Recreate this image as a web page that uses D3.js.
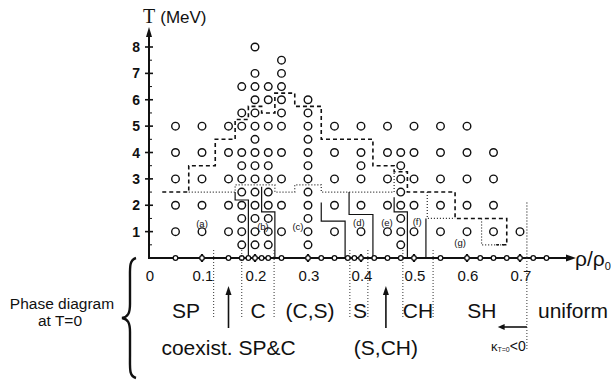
<!DOCTYPE html>
<html>
<head>
<meta charset="utf-8">
<script src="https://cdn.jsdelivr.net/npm/d3@7"></script>
<style>
  body { margin: 0; background: #fff; }
  svg { display: block; }
  text { font-family: "Liberation Sans", Arial, sans-serif; fill: #111; }
</style>
</head>
<body>
<svg id="chart" width="611" height="380"></svg>
<script>
// simulation grid: one list of temperatures per density column
const rhoCols = [0.05, 0.1, 0.15, 0.175, 0.2, 0.225, 0.25, 0.3, 0.35, 0.4, 0.45, 0.475, 0.5, 0.55, 0.6, 0.65, 0.7];
const tempCols = [
  [1, 2, 3, 4, 5],
  [1, 2, 3, 4, 5],
  [1, 2, 3, 4, 5],
  [0.5, 1, 1.5, 2, 2.5, 3, 3.5, 4, 5, 5.5, 6.5],
  [0.5, 1, 1.5, 2, 2.5, 3, 3.5, 4, 4.5, 5, 5.5, 6, 6.5, 7, 8],
  [0.5, 1, 1.5, 2, 2.5, 3, 3.5, 4, 5, 6, 6.5],
  [1, 2, 3, 4, 5, 5.5, 6, 6.5, 7, 7.5],
  [0.5, 1, 1.5, 2, 2.5, 3, 3.5, 4, 4.5, 5, 5.5, 6],
  [1, 2, 3, 4, 5],
  [1, 2, 3, 3.5, 4, 5],
  [1, 2, 3, 4, 5],
  [0.5, 1, 1.5, 2, 2.5, 3, 3.5, 4],
  [1, 2, 3, 4, 5],
  [1, 2, 3, 4, 5],
  [1, 2, 3, 4, 5],
  [1, 2, 3, 4],
  [1]
];
// T = 0 points on the density axis
const rhoAtZero = [0.05, 0.1, 0.15, 0.175, 0.1875, 0.2, 0.2125, 0.225, 0.25, 0.3, 0.325, 0.35, 0.375, 0.3875, 0.4, 0.425, 0.45, 0.475, 0.5, 0.55, 0.6, 0.625, 0.65, 0.675, 0.7, 0.725, 0.75];

const xTicks = [0, 0.1, 0.2, 0.3, 0.4, 0.5, 0.6, 0.7];
const yTicks = [1, 2, 3, 4, 5, 6, 7, 8];
const yMinor = [0.5, 1.5, 2.5, 3.5, 4.5, 5.5, 6.5, 7.5];

// boundaries, as [rho, T]
const dashedLine = [[0.025, 2.5], [0.075, 2.5], [0.075, 3.5], [0.125, 3.5], [0.125, 4.5], [0.1625, 4.5],
  [0.1625, 5.25], [0.1875, 5.25], [0.1875, 5.75], [0.2125, 5.75], [0.2125, 5.5], [0.2375, 5.5],
  [0.2375, 6.25], [0.275, 6.25], [0.275, 5.75], [0.325, 5.75], [0.325, 4.5], [0.4225, 4.5],
  [0.4225, 3.5], [0.4625, 3.5], [0.4625, 3.27], [0.4875, 3.27], [0.4875, 2.5], [0.5775, 2.5],
  [0.5775, 1.5], [0.675, 1.5], [0.675, 0.5], [0.655, 0.5]];
const dottedLines = [
  [[0.075, 2.5], [0.1625, 2.5], [0.1625, 2.77], [0.2375, 2.77], [0.2375, 2.5], [0.275, 2.5], [0.275, 2.77],
   [0.325, 2.77], [0.325, 2.5], [0.4625, 2.5], [0.4625, 3.27]],
  [[0.525, 2.5], [0.525, 1.5], [0.5775, 1.5]],
  [[0.6275, 1.5], [0.6275, 0.5], [0.675, 0.5]],
  [[0.713, 2.1], [0.713, 0]]
];
const solidLines = [
  [[0.1625, 2.5], [0.1625, 2.2], [0.1875, 2.2], [0.1875, 0]],
  [[0.2125, 2.7], [0.2125, 1.75], [0.2375, 1.75], [0.2375, 0]],
  [[0.325, 2.1], [0.325, 1.4], [0.37, 1.4], [0.37, 0]],
  [[0.3775, 2.5], [0.3775, 1.65], [0.4225, 1.65], [0.4225, 0]],
  [[0.4625, 2.3], [0.4625, 1.75], [0.4875, 1.75], [0.4875, 0]],
  [[0.5225, 1.5], [0.5225, 0]]
];

const caseLabels = ["(a)", "(b)", "(c)", "(d)", "(e)", "(f)", "(g)"];
const caseRho = [0.1, 0.215, 0.281, 0.396, 0.449, 0.506, 0.587];
const caseT = [1.29, 1.17, 1.17, 1.33, 1.33, 1.36, 0.6];

// phase diagram at T = 0
const phaseLabels = ["SP", "C", "(C,S)", "S", "CH", "SH", "uniform"];
const phaseRho = [0.07, 0.206, 0.304, 0.398, 0.5075, 0.628, 0.8];
const phaseCuts = [0.122, 0.175, 0.236, 0.379, 0.413, 0.479, 0.536];
const coexistLabels = ["coexist. SP&C", "(S,CH)"];
const coexistRho = [0.15, 0.447];

const svg = d3.select("#chart");
const x = d3.scaleLinear().domain([0, 0.7]).range([149, 520]);
const y = d3.scaleLinear().domain([0, 8]).range([258, 47]);
const line = d3.line().x(d => x(d[0])).y(d => y(d[1]));

// axes
svg.append("line").attr("x1", x(0)).attr("x2", 570).attr("y1", y(0)).attr("y2", y(0))
  .attr("stroke", "#111").attr("stroke-width", 2);
svg.append("path").attr("d", `M576,${y(0)} L566,${y(0) - 3.5} L566,${y(0) + 3.5}Z`).attr("fill", "#111");
svg.append("line").attr("x1", x(0)).attr("x2", x(0)).attr("y1", y(0) + 1).attr("y2", 34)
  .attr("stroke", "#111").attr("stroke-width", 2);
svg.append("path").attr("d", `M${x(0)},27 L${x(0) - 3},37 L${x(0) + 3},37Z`).attr("fill", "#111");

svg.selectAll(".ytick").data(yTicks).enter().append("line")
  .attr("x1", x(0) - 4).attr("x2", x(0) + 4).attr("y1", d => y(d)).attr("y2", d => y(d))
  .attr("stroke", "#111").attr("stroke-width", 1.6);
svg.selectAll(".yminor").data(yMinor).enter().append("line")
  .attr("x1", x(0)).attr("x2", x(0) + 3).attr("y1", d => y(d)).attr("y2", d => y(d))
  .attr("stroke", "#111").attr("stroke-width", 1);
svg.selectAll(".ylab").data(yTicks).enter().append("text")
  .attr("x", 140).attr("y", d => y(d)).attr("dy", "0.36em")
  .attr("text-anchor", "end").attr("font-size", 14).attr("font-weight", "bold")
  .text(d => d);

svg.selectAll(".xtick").data(xTicks.slice(1)).enter().append("line")
  .attr("x1", d => x(d)).attr("x2", d => x(d)).attr("y1", y(0) - 4).attr("y2", y(0) + 4)
  .attr("stroke", "#111").attr("stroke-width", 2.2);
svg.selectAll(".xlab").data(xTicks).enter().append("text")
  .attr("x", d => x(d) + 1).attr("y", 281)
  .attr("text-anchor", "middle").attr("font-size", 15)
  .text(d => d);

// axis titles
const tTitle = svg.append("text").attr("x", 143).attr("y", 23).attr("font-size", 17);
tTitle.append("tspan").attr("font-family", "Liberation Serif, serif").attr("font-size", 20).text("T");
tTitle.append("tspan").attr("dx", 5).text("(MeV)");
const rTitle = svg.append("text").attr("x", 575).attr("y", 266).attr("font-size", 21);
rTitle.append("tspan").text("ρ/ρ");
rTitle.append("tspan").attr("font-size", 11).attr("dy", 4).text("0");

// boundaries
svg.append("path").attr("d", line(dashedLine)).attr("fill", "none")
  .attr("stroke", "#111").attr("stroke-width", 1.6).attr("stroke-dasharray", "4,3");
svg.selectAll(".dotted").data(dottedLines).enter().append("path")
  .attr("d", line).attr("fill", "none")
  .attr("stroke", "#222").attr("stroke-width", 1.2).attr("stroke-dasharray", "1,2");
svg.selectAll(".solid").data(solidLines).enter().append("path")
  .attr("d", line).attr("fill", "none")
  .attr("stroke", "#111").attr("stroke-width", 1.2);

// simulation points
const points = rhoCols.flatMap((r, i) => tempCols[i].map(t => [r, t]));
svg.selectAll(".pt").data(points).enter().append("circle")
  .attr("cx", d => x(d[0])).attr("cy", d => y(d[1])).attr("r", 3.8)
  .attr("fill", "#fff").attr("stroke", "#111").attr("stroke-width", 1.4);
svg.selectAll(".pt0").data(rhoAtZero).enter().append("circle")
  .attr("cx", d => x(d)).attr("cy", y(0)).attr("r", 2.3)
  .attr("fill", "#fff").attr("stroke", "#111").attr("stroke-width", 1.3);

svg.selectAll(".case").data(caseLabels).enter().append("text")
  .attr("x", (d, i) => x(caseRho[i])).attr("y", (d, i) => y(caseT[i])).attr("dy", "0.35em")
  .attr("text-anchor", "middle").attr("font-size", 9.5)
  .text(d => d);

// phase diagram at T = 0 below the axis
svg.selectAll(".cut").data(phaseCuts).enter().append("line")
  .attr("x1", d => x(d)).attr("x2", d => x(d)).attr("y1", y(0) - 8).attr("y2", 318)
  .attr("stroke", "#333").attr("stroke-width", 1).attr("stroke-dasharray", "1,2");
svg.append("line").attr("x1", x(0.713)).attr("x2", x(0.713)).attr("y1", y(0)).attr("y2", 350)
  .attr("stroke", "#333").attr("stroke-width", 1).attr("stroke-dasharray", "1,2");

svg.selectAll(".phase").data(phaseLabels).enter().append("text")
  .attr("x", (d, i) => x(phaseRho[i])).attr("y", 318)
  .attr("text-anchor", "middle").attr("font-size", 21)
  .text(d => d);
svg.selectAll(".coexist").data(coexistLabels).enter().append("text")
  .attr("x", (d, i) => x(coexistRho[i])).attr("y", 355)
  .attr("text-anchor", "middle").attr("font-size", 21)
  .text(d => d);

// up arrows to the coexistence labels
coexistRho.forEach(r => {
  svg.append("line").attr("x1", x(r)).attr("x2", x(r)).attr("y1", 328).attr("y2", 293)
    .attr("stroke", "#111").attr("stroke-width", 1.6);
  svg.append("path").attr("d", `M${x(r)},286 L${x(r) - 3},295 L${x(r) + 3},295Z`).attr("fill", "#111");
});
// compressibility arrow
svg.append("line").attr("x1", x(0.713)).attr("x2", x(0.668)).attr("y1", 327).attr("y2", 327)
  .attr("stroke", "#111").attr("stroke-width", 1.6);
svg.append("path").attr("d", `M${x(0.658)},327 L${x(0.671)},324 L${x(0.671)},330Z`).attr("fill", "#111");
const kappa = svg.append("text").attr("x", 491).attr("y", 351).attr("font-size", 13);
kappa.append("tspan").text("κ");
kappa.append("tspan").attr("font-size", 7).attr("dy", 1).text("T=0");
kappa.append("tspan").attr("font-size", 14).attr("dy", -1).text("<0");

// left note and brace
svg.append("text").attr("x", 62).attr("y", 309).attr("text-anchor", "middle")
  .attr("font-size", 15.5).text("Phase diagram");
svg.append("text").attr("x", 60).attr("y", 326).attr("text-anchor", "middle")
  .attr("font-size", 15.5).text("at T=0");
svg.append("path")
  .attr("d", "M136,258 C129,260 130,268 130,280 L130,304 C130,313 128,317 122,318 C128,319 130,323 130,332 L130,356 C130,369 129,376 136,378")
  .attr("fill", "none").attr("stroke", "#111").attr("stroke-width", 2.4);
</script>
</body>
</html>
